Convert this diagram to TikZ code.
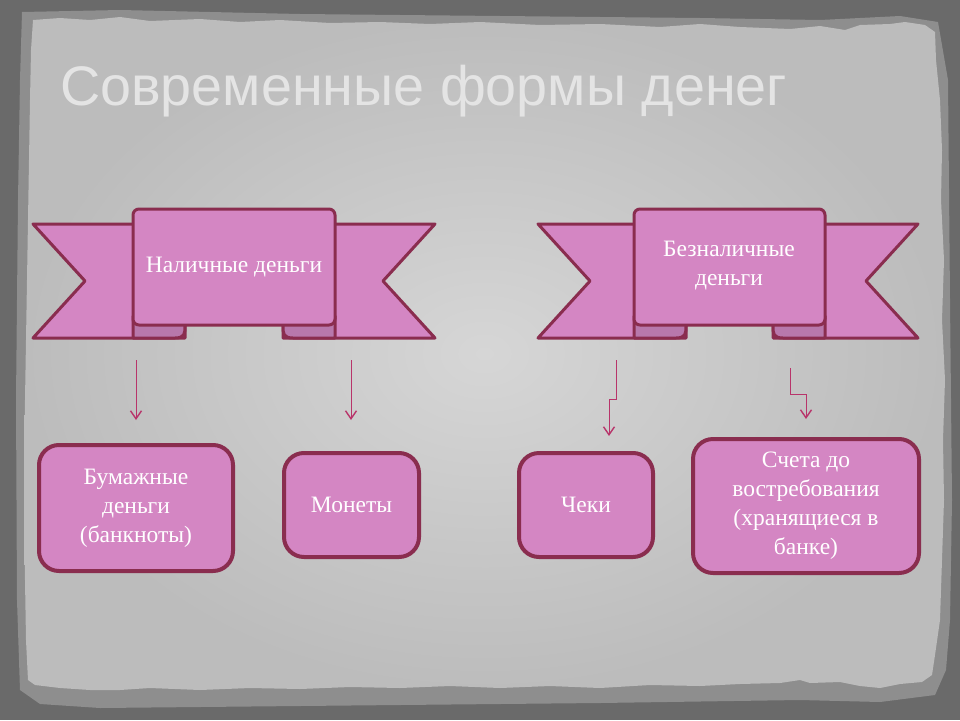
\documentclass[tikz,border=0pt]{standalone}
\usepackage{fontspec}
\setmainfont{Liberation Serif}
\newfontfamily\titlefont{Liberation Sans}
\usetikzlibrary{arrows.meta}
\definecolor{bgdark}{HTML}{6A6A6A}
\definecolor{bgband}{HTML}{8E8E8E}
\definecolor{paperin}{HTML}{D6D6D6}
\definecolor{paperout}{HTML}{BCBCBC}
\definecolor{ribfill}{HTML}{D486C3}
\definecolor{ribline}{HTML}{8A2D4F}
\definecolor{ribfold}{HTML}{B878AC}
\definecolor{arrcol}{HTML}{B8346A}
\definecolor{titlecol}{HTML}{E4E4E4}
\tikzset{
  rib/.style={fill=ribfill, draw=ribline, line width=3pt, line join=round},
  ribfoldst/.style={fill=ribfold, draw=ribline, line width=3pt, line join=round},
  ribtext/.style={text=white, font=\fontsize{23.5}{29}\selectfont, align=center},
  boxst/.style={rectangle, rounded corners=20pt, fill=ribfill, draw=ribline, line width=4pt,
    text=white, font=\fontsize{23.5}{29}\selectfont, align=center, inner sep=0pt},
  arr/.style={draw=arrcol, line width=1pt, -{Straight Barb[length=8pt,width=11pt,line width=1.4pt]}}
}
\newcommand\drawribbon[4]{%
  % left tail
  \filldraw[rib] (#1,224) -- ({#3+52},224) -- ({#3+52},338) -- (#1,338) -- ({#1+52},281) -- cycle;
  % right tail
  \filldraw[rib] (#2,224) -- ({#4-52},224) -- ({#4-52},338) -- (#2,338) -- ({#2-52},281) -- cycle;
  % folds
  \filldraw[ribfoldst] (#3,316) -- (#3,338) -- ({#3+42},338) .. controls ({#3+52},338) and ({#3+52},333) .. ({#3+52},326) -- ({#3+52},316) -- cycle;
  \filldraw[ribfoldst] (#4,316) -- (#4,338) -- ({#4-42},338) .. controls ({#4-52},338) and ({#4-52},333) .. ({#4-52},326) -- ({#4-52},316) -- cycle;
  % front panel
  \filldraw[rib, rounded corners=6pt] (#3,325) -- (#3,209) -- (#4,209) -- (#4,325) -- cycle;
}
\begin{document}
\begin{tikzpicture}[x=1pt,y=-1pt]
\useasboundingbox (0,0) rectangle (960,720);
% background
\fill[bgdark] (0,0) rectangle (960,720);
\fill[bgband] (22,12) -- (120,10) -- (300,14) -- (500,16) -- (700,18) -- (820,20) -- (900,16) -- (938,22) -- (948,80) -- (950,300) -- (952,500) -- (950,620) -- (946,670) -- (935,695) -- (880,702) -- (800,700) -- (600,703) -- (400,705) -- (200,707) -- (100,708) -- (40,704) -- (20,690) -- (17,600) -- (16,400) -- (18,200) -- (20,80) -- cycle;
\shade[inner color=paperin, outer color=paperout]
  (33,20) -- (60,18) -- (90,20) -- (120,17) -- (150,21) -- (200,19) -- (240,22) -- (280,20) -- (330,23) -- (380,22) -- (430,24) -- (480,22) -- (540,25) -- (600,24) -- (660,27) -- (700,24) -- (740,27) -- (790,29) -- (820,26) -- (845,30) -- (860,25) -- (890,24) -- (905,22) -- (925,25) -- (935,32)
  -- (936,60) -- (940,100) -- (942,150) -- (941,200) -- (944,260) -- (942,320) -- (945,380) -- (943,440) -- (944,500) -- (942,560) -- (940,620) -- (935,655) -- (932,675) -- (922,682)
  -- (900,684) -- (880,688) -- (860,686) -- (840,682) -- (810,683) -- (800,680) -- (780,683) -- (740,684) -- (700,686) -- (650,685) -- (600,688) -- (550,686) -- (500,688) -- (450,686) -- (400,688) -- (350,687) -- (300,689) -- (250,688) -- (200,690) -- (150,688) -- (120,690) -- (90,690) -- (60,688) -- (35,685) -- (28,680)
  -- (26,640) -- (25,580) -- (24,520) -- (24,460) -- (25,400) -- (26,340) -- (27,280) -- (28,220) -- (29,160) -- (30,100) -- (31,50) -- cycle;
% title
\node[anchor=base west, inner sep=0pt, text=titlecol, font=\titlefont\fontsize{55.7}{66}\selectfont] (title) at (60,105) {Современные формы денег};
% ribbons
\drawribbon{33}{435}{133}{335}
\drawribbon{538}{918}{634}{825}
\node[ribtext] (cash) at (234,267) {Наличные деньги};
\node[ribtext] (noncash) at (729,266) {Безналичные\\деньги};
% boxes
\node[boxst, minimum width=194pt, minimum height=126pt] (paper) at (136,508) {Бумажные\\деньги\\(банкноты)};
\node[boxst, minimum width=135pt, minimum height=104pt] (coins) at (351.5,505) {Монеты};
\node[boxst, minimum width=134pt, minimum height=104pt] (cheques) at (586,505) {Чеки};
\node[boxst, minimum width=226pt, minimum height=134pt] (deposits) at (806,506) {Счета до\\востребования\\(хранящиеся в\\банке)};
% arrows
\coordinate (a1s) at (136,360); \coordinate (a1e) at (136,420);
\coordinate (a2s) at (351,360); \coordinate (a2e) at (351,420);
\coordinate (a3s) at (616,360); \coordinate (a3m) at (609,399); \coordinate (a3e) at (609,436);
\coordinate (a4s) at (790,368); \coordinate (a4m) at (806,394); \coordinate (a4e) at (806,419);
\draw[arr] (a1s) -- (a1e);
\draw[arr] (a2s) -- (a2e);
\draw[arr] (a3s) |- (a3m) -- (a3e);
\draw[arr] (a4s) |- (a4m) -- (a4e);
\end{tikzpicture}
\end{document}
